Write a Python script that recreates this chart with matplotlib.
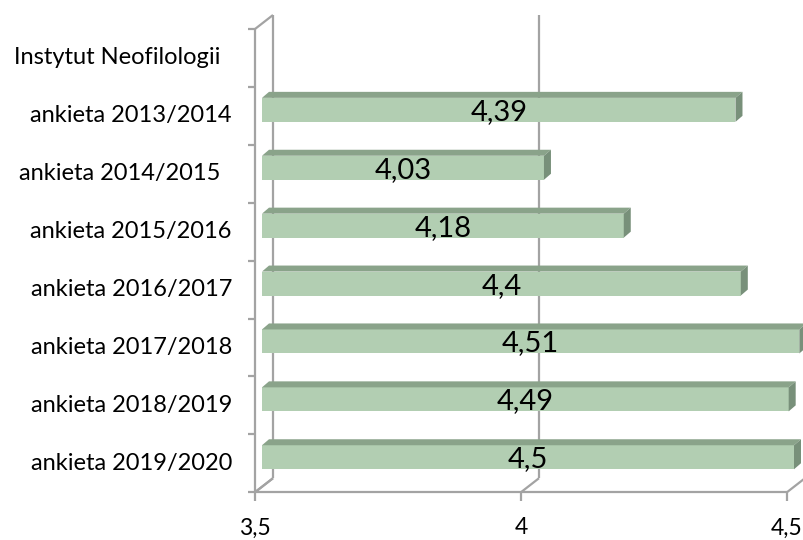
import matplotlib
matplotlib.use("Agg")
import matplotlib.pyplot as plt
from matplotlib.patches import Polygon, Rectangle

# ---- data ----
categories = ["Instytut Neofilologii  ", "ankieta 2013/2014", "ankieta 2014/2015  ",
              "ankieta 2015/2016", "ankieta 2016/2017", "ankieta 2017/2018",
              "ankieta 2018/2019", "ankieta 2019/2020"]
values = [None, 4.39, 4.03, 4.18, 4.4, 4.51, 4.49, 4.5]
value_labels = ["", "4,39", "4,03", "4,18", "4,4", "4,51", "4,49", "4,5"]
ticks = [3.5, 4.0, 4.5]
tick_labels = ["3,5", "4", "4,5"]

# ---- style ----
LINE = "#A3A3A3"
FRONT = "#B2CEB2"
TOP = "#8AA38A"
SIDE = "#78907A"
FONT = "Lato"

W, H = 804, 540
fig = plt.figure(figsize=(W / 100, H / 100), dpi=100)
ax = fig.add_axes([0, 0, 1, 1])
ax.axis("off")

X0_PX, SX = 255, 532.0   # pixel of 3.5 on front plane, px per unit
Y0_PX, SY = 29, 57.9     # pixel of top of category band, px per category
ax.set_xlim(3.5 - X0_PX / SX, 3.5 + (W - X0_PX) / SX)
ax.set_ylim((H - Y0_PX) / SY, -Y0_PX / SY)

def dx(p):
    return p / SX

def dy(p):  # upward pixel shift in category units
    return -p / SY

n = len(categories)
xmin, xmax = ticks[0], ticks[-1]
lk = dict(color=LINE, lw=1.6, solid_capstyle="butt", zorder=1)

# back wall gridlines
for t in ticks:
    ax.plot([t + dx(18)] * 2, [0 + dy(14), n + dy(14)], **lk)
# left wall
ax.plot([xmin, xmin], [0, n], **lk)
ax.plot([xmin, xmin + dx(18)], [0, dy(14)], **lk)
ax.plot([xmin, xmin + dx(18)], [n, n + dy(14)], **lk)
for j in range(n + 1):
    ax.plot([xmin - dx(7), xmin], [j, j], **lk)
# floor
ax.plot([xmin, xmax], [n, n], **lk)
for t in ticks:
    ax.plot([t, t + dx(18)], [n, n + dy(14)], **lk)
    ax.plot([t, t], [n, n - dy(9)], **lk)

# bars
h = 24 / SY
for k, v in enumerate(values):
    jc = k + 0.5
    if v is None:
        continue
    x0 = xmin + dx(7)
    x1 = v + dx(7)
    yc = jc + dy(6)
    ytop, ybot = yc - h / 2, yc + h / 2
    d, e = dx(7), dy(6)
    ax.add_patch(Rectangle((x0, ytop), x1 - x0, h, facecolor=FRONT,
                           edgecolor="none", zorder=3))
    ax.add_patch(Polygon([(x0, ytop), (x1, ytop), (x1 + d, ytop + e), (x0 + d, ytop + e)],
                         closed=True, facecolor=TOP, edgecolor="none", zorder=3))
    ax.add_patch(Polygon([(x1, ytop), (x1 + d, ytop + e), (x1 + d, ybot + e), (x1, ybot)],
                         closed=True, facecolor=SIDE, edgecolor="none", zorder=3))
    ax.text((x0 + x1) / 2, yc + dy(-2), value_labels[k], ha="center", va="center",
            fontsize=21, family=FONT, color="black", zorder=4)

# category labels
for k, c in enumerate(categories):
    ax.text(xmin - dx(23), k + 0.5, c, ha="right", va="center",
            fontsize=17, family=FONT, color="black")

# tick labels
for t, lab in zip(ticks, tick_labels):
    ax.text(t, (528 - Y0_PX) / SY, lab, ha="center", va="center",
            fontsize=16.5, family=FONT, color="black")

fig.savefig("out.png", dpi=100)
